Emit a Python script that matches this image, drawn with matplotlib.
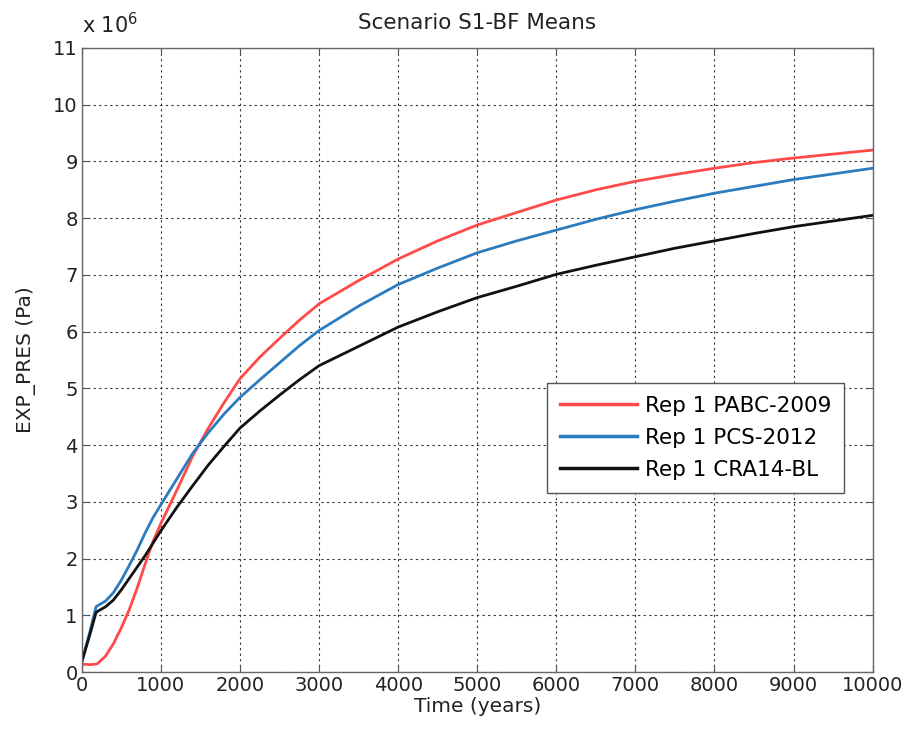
import matplotlib
matplotlib.use("Agg")
import matplotlib.pyplot as plt
import numpy as np

# time axis (years) and mean pressures (x 1e6 Pa)
years = [0, 100, 180, 200, 300, 400, 500, 600, 700, 800, 900, 1000, 1200, 1400,
         1600, 1800, 2000, 2250, 2500, 2750, 3000, 3500, 4000, 4500, 5000, 5500,
         6000, 6500, 7000, 7500, 8000, 8500, 9000, 9500, 10000]
pabc_2009 = [0.14, 0.13, 0.14, 0.15, 0.28, 0.50, 0.78, 1.10, 1.48, 1.90, 2.30, 2.62,
             3.20, 3.80, 4.30, 4.75, 5.17, 5.55, 5.88, 6.20, 6.49, 6.90, 7.28, 7.60,
             7.88, 8.10, 8.32, 8.50, 8.65, 8.77, 8.88, 8.98, 9.06, 9.13, 9.20]
pcs_2012 = [0.18, 0.70, 1.15, 1.17, 1.25, 1.40, 1.62, 1.88, 2.15, 2.45, 2.72, 2.95,
            3.40, 3.85, 4.22, 4.55, 4.84, 5.15, 5.45, 5.75, 6.02, 6.45, 6.83, 7.12,
            7.39, 7.60, 7.79, 7.98, 8.15, 8.30, 8.44, 8.56, 8.68, 8.78, 8.88]
cra14_bl = [0.18, 0.65, 1.05, 1.07, 1.15, 1.27, 1.45, 1.65, 1.85, 2.05, 2.27, 2.49,
            2.90, 3.28, 3.65, 3.98, 4.30, 4.60, 4.88, 5.15, 5.40, 5.74, 6.08, 6.35,
            6.60, 6.80, 7.01, 7.17, 7.32, 7.47, 7.60, 7.73, 7.85, 7.95, 8.05]
labels = ["Rep 1 PABC-2009", "Rep 1 PCS-2012", "Rep 1 CRA14-BL"]
colors = ["#ff4a4a", "#2b7bbf", "#111111"]

plt.rcParams['font.family'] = ['DejaVu Sans']

fig = plt.figure(figsize=(9.09, 7.38), dpi=100)
ax = fig.add_axes([0.090, 0.0894, 0.870, 0.8456])

for vals, lab, col in zip([pabc_2009, pcs_2012, cra14_bl], labels, colors):
    ax.plot(years, np.array(vals) * 1e6, color=col, lw=2.0, label=lab)

ax.set_xlim(0, 10000)
ax.set_ylim(0, 11e6)
ax.set_xticks(np.arange(0, 10001, 1000))
ax.set_yticks(np.arange(0, 11.1e6, 1e6))
ax.set_yticklabels([str(i) for i in range(12)])
ax.tick_params(direction='in', top=True, right=True, labelsize=14, length=5,
               color='#555555', labelcolor='#222222', pad=3)
ax.grid(True, color='#333333', linestyle=(0, (2, 3)), linewidth=0.8)
for s in ax.spines.values():
    s.set_color('#666666')
    s.set_linewidth(1.0)

ax.set_xlabel('Time (years)', fontsize=14.5, color='#222222', labelpad=1)
ax.set_ylabel('EXP_PRES (Pa)', fontsize=14.5, color='#222222', labelpad=12)
ax.set_title('Scenario S1-BF Means', fontsize=15.5, color='#222222', pad=14)
ax.text(0.0, 1.018, r'x 10$^{6}$', transform=ax.transAxes, fontsize=15,
        color='#222222', va='bottom', ha='left')

leg = ax.legend(loc='upper left', bbox_to_anchor=(0.588, 0.463), fontsize=15.5,
                fancybox=False, framealpha=1, edgecolor='#555555', borderaxespad=0,
                handlelength=3.6, handletextpad=0.35, borderpad=0.6, labelspacing=0.55)
leg.get_frame().set_linewidth(1.0)
for h in leg.get_lines():
    h.set_linewidth(2.5)

fig.savefig('out.png', dpi=100)
